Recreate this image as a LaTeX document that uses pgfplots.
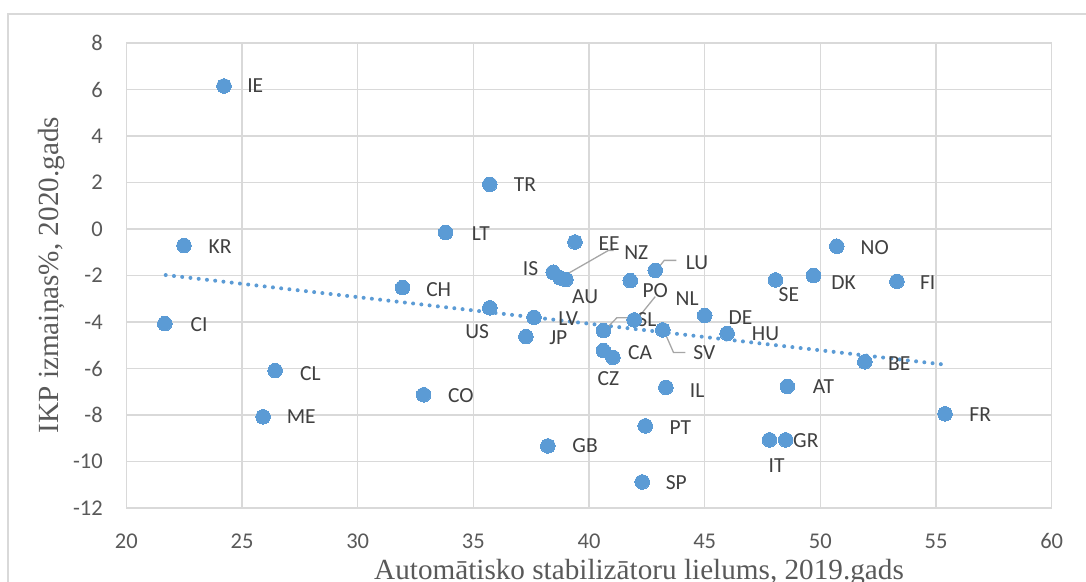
\documentclass[border=0pt]{standalone}
\usepackage{fontspec}
\setmainfont{Liberation Serif}
\newfontfamily\calfont{Carlito}
\usepackage{pgfplots}
\pgfplotsset{compat=1.18}
\definecolor{mk}{HTML}{5B9BD5}
\definecolor{gridc}{HTML}{D9D9D9}
\definecolor{tickc}{HTML}{595959}
\definecolor{labc}{HTML}{404040}
\definecolor{leadc}{HTML}{A6A6A6}
\newcommand\lbl[3]{\node[font=\calfont\fontsize{21.5}{24}\selectfont, text=labc, inner sep=0pt] at (axis cs:#1,#2) {#3};}
\begin{document}
\begin{tikzpicture}[x=1pt,y=1pt]
\begin{axis}[
  at={(0,0)}, anchor=south west,
  scale only axis, width=925.3pt, height=465pt,
  xmin=20, xmax=60, ymin=-12, ymax=8,
  xtick={20,25,...,60}, ytick={-12,-10,...,8},
  grid=major, major grid style={draw=gridc, line width=1.3pt},
  axis line style={draw=gridc, line width=1.3pt},
  tick style={draw=none},
  /pgf/number format/assume math mode=true,
  ticklabel style={font=\calfont\fontsize{22.5}{26}\selectfont, text=tickc, inner sep=0pt},
  xticklabel style={anchor=base, yshift=-40pt},
  yticklabel style={anchor=east, xshift=-23.5pt},
  clip=false,
]
\addplot[mk, line width=4pt, line cap=round, dash pattern=on 0pt off 8.3pt] coordinates {(21.7,-1.98) (55.35,-5.83)};
\addplot[only marks, mark=*, mark size=7.3pt, draw=mk, fill=mk, mark options={draw=mk, fill=mk, line width=0pt}] coordinates {
(24.22,6.15) (35.71,1.92) (33.80,-0.15) (22.49,-0.71) (39.39,-0.56) (50.71,-0.74)
(38.45,-1.86) (38.74,-2.10) (39.00,-2.17) (42.86,-1.78) (41.78,-2.22)
(35.71,-3.39) (37.62,-3.80) (37.27,-4.63) (41.95,-3.91) (40.62,-4.37) (43.19,-4.34)
(40.62,-5.23) (41.03,-5.52) (45.00,-3.72) (45.97,-4.49)
(48.06,-2.19) (49.70,-2.00) (53.31,-2.25) (51.92,-5.71) (48.57,-6.77) (55.39,-7.95)
(43.32,-6.81) (48.50,-9.07) (47.80,-9.07) (42.43,-8.47) (38.22,-9.33) (42.30,-10.88)
(32.85,-7.13) (26.43,-6.09) (25.91,-8.08) (21.66,-4.07) (31.94,-2.52)
};
% leader lines
\draw[leadc, line width=1.3pt] (axis cs:38.82,-2.07) -- (axis cs:40.84,-0.92) -- (axis cs:41.06,-0.92);
\draw[leadc, line width=1.3pt] (axis cs:42.93,-1.75) -- (axis cs:43.25,-1.35) -- (axis cs:43.77,-1.35);
\draw[leadc, line width=1.3pt] (axis cs:42.07,-3.88) -- (axis cs:42.86,-2.91);
\draw[leadc, line width=1.3pt] (axis cs:40.69,-4.34) -- (axis cs:41.20,-3.82) -- (axis cs:41.99,-3.82);
\draw[leadc, line width=1.3pt] (axis cs:43.25,-4.40) -- (axis cs:43.65,-5.31) -- (axis cs:44.16,-5.31);
% labels
\lbl{25.57}{6.15}{IE}
\lbl{37.23}{1.92}{TR}
\lbl{35.32}{-0.19}{LT}
\lbl{24.05}{-0.75}{KR}
\lbl{40.87}{-0.63}{EE}
\lbl{42.04}{-1.02}{NZ}
\lbl{37.47}{-1.71}{IS}
\lbl{44.67}{-1.43}{LU}
\lbl{39.83}{-2.91}{AU}
\lbl{42.86}{-2.65}{PO}
\lbl{44.24}{-3.00}{NL}
\lbl{33.50}{-2.60}{CH}
\lbl{23.14}{-4.11}{CI}
\lbl{35.16}{-4.40}{US}
\lbl{39.10}{-3.87}{LV}
\lbl{38.67}{-4.66}{JP}
\lbl{42.50}{-3.90}{SL}
\lbl{44.98}{-5.32}{SV}
\lbl{42.21}{-5.31}{CA}
\lbl{40.84}{-6.45}{CZ}
\lbl{46.55}{-3.80}{DE}
\lbl{47.63}{-4.50}{HU}
\lbl{48.64}{-2.82}{SE}
\lbl{51.00}{-2.29}{DK}
\lbl{54.64}{-2.29}{FI}
\lbl{52.35}{-0.78}{NO}
\lbl{53.41}{-5.81}{BE}
\lbl{50.13}{-6.77}{AT}
\lbl{56.91}{-7.99}{FR}
\lbl{44.67}{-6.96}{IL}
\lbl{49.37}{-9.11}{GR}
\lbl{48.11}{-10.19}{IT}
\lbl{43.95}{-8.55}{PT}
\lbl{39.83}{-9.33}{GB}
\lbl{43.77}{-10.92}{SP}
\lbl{27.95}{-6.22}{CL}
\lbl{27.56}{-8.08}{ME}
\lbl{34.46}{-7.17}{CO}
\end{axis}
\draw[gridc, line width=1.2pt] (-118.4,-100) -- (-118.4,494) -- (990,494);
\node[anchor=base, inner sep=0pt, text=tickc, font=\fontsize{29.2}{32}\selectfont] at (512.6,-71) {Automātisko stabilizātoru lielums, 2019.gads};
\node[anchor=base, rotate=90, inner sep=0pt, text=tickc, font=\fontsize{29.2}{32}\selectfont] at (-68.1,233) {IKP izmaiņas\%, 2020.gads};
\pgfresetboundingbox
\useasboundingbox (-126.4,-73) rectangle (959.6,508);
\end{tikzpicture}
\end{document}
